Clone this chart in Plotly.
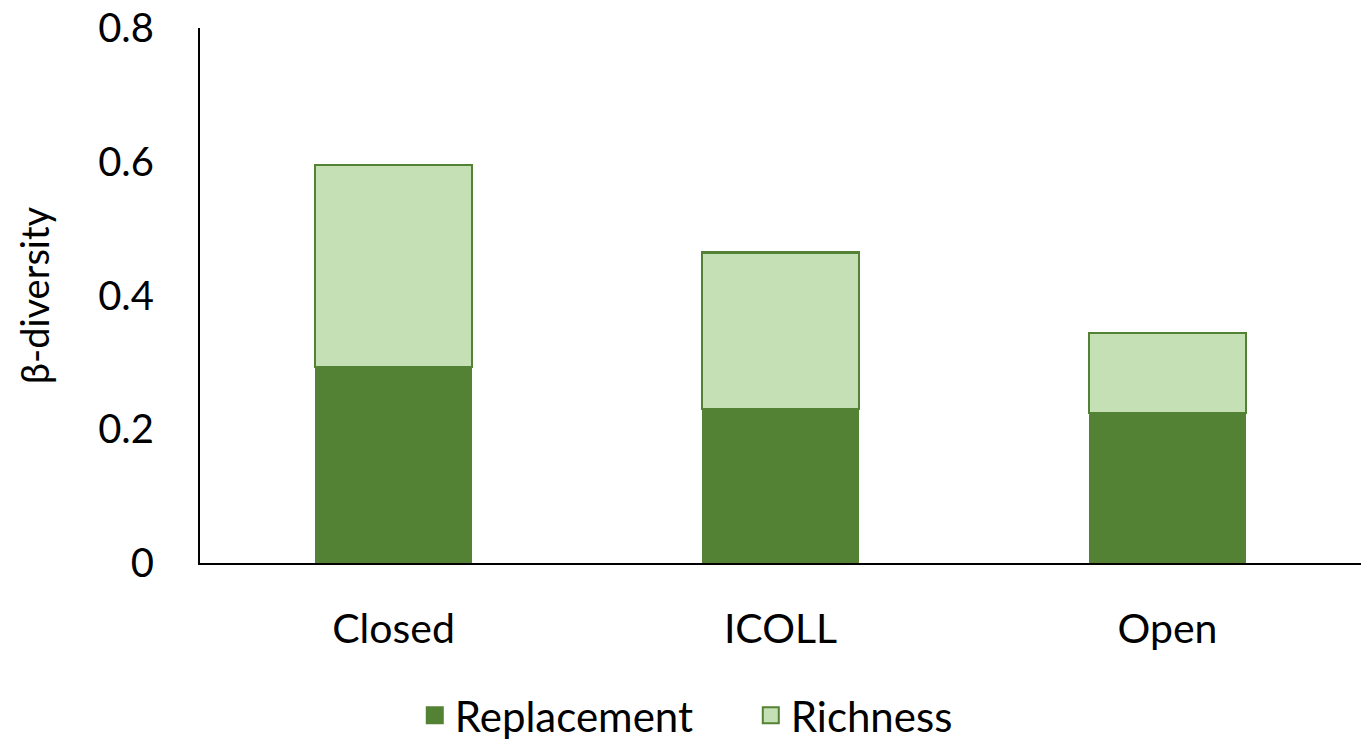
import plotly.graph_objects as go

categories = ["Closed", "ICOLL", "Open"]
replacement = [0.293, 0.230, 0.224]
richness = [0.302, 0.234, 0.120]
y_ticks = [0, 0.2, 0.4, 0.6, 0.8]
y_tick_labels = ["0", "0.2", "0.4", "0.6", "0.8"]

DARK = "#548235"
LIGHT = "#C5E0B4"
FONT = "Lato"

fig = go.Figure()
fig.add_trace(go.Bar(name="Replacement", x=categories, y=replacement, showlegend=False,
                     marker=dict(color=DARK, line=dict(color=DARK, width=1))))
fig.add_trace(go.Bar(name="Richness", x=categories, y=richness, showlegend=False,
                     marker=dict(color=LIGHT, line=dict(color=DARK, width=2.5))))
# legend proxies (larger square symbols)
fig.add_trace(go.Scatter(name="Replacement", x=[categories[0]], y=[None], mode="markers",
                         marker=dict(symbol="square", size=16, color=DARK,
                                     line=dict(color=DARK, width=2))))
fig.add_trace(go.Scatter(name="Richness", x=[categories[0]], y=[None], mode="markers",
                         marker=dict(symbol="square", size=16, color=LIGHT,
                                     line=dict(color=DARK, width=2))))

fig.update_layout(
    barmode="stack",
    bargap=0.595,
    width=1366, height=742,
    margin=dict(l=200, r=5, t=28, b=179, autoexpand=False),
    paper_bgcolor="white", plot_bgcolor="white",
    font=dict(family=FONT, size=39, color="black"),
    showlegend=True,
    legend=dict(orientation="h", x=0.185, xanchor="left", y=-0.285, yanchor="middle",
                font=dict(size=42), itemsizing="trace", traceorder="normal",
                entrywidth=291, entrywidthmode="pixels"),
)
fig.update_xaxes(showline=True, linecolor="black", linewidth=2, showgrid=False,
                 automargin=False,
                 ticks="outside", ticklen=29, tickcolor="rgba(0,0,0,0)",
                 tickfont=dict(size=41))
fig.update_yaxes(range=[0, 0.8], tickvals=y_ticks, ticktext=y_tick_labels,
                 automargin=False, ticklabeloverflow="allow",
                 showline=True, linecolor="black", linewidth=2, showgrid=False,
                 zeroline=False, ticks="outside", ticklen=36, tickcolor="rgba(0,0,0,0)",
                 tickfont=dict(size=40),
                 title=dict(text="β-diversity", font=dict(size=38), standoff=37))

fig.write_html("out.html",
               config={"displayModeBar": False},
               post_script="document.body.style.margin='0';document.body.style.overflow='hidden';")
